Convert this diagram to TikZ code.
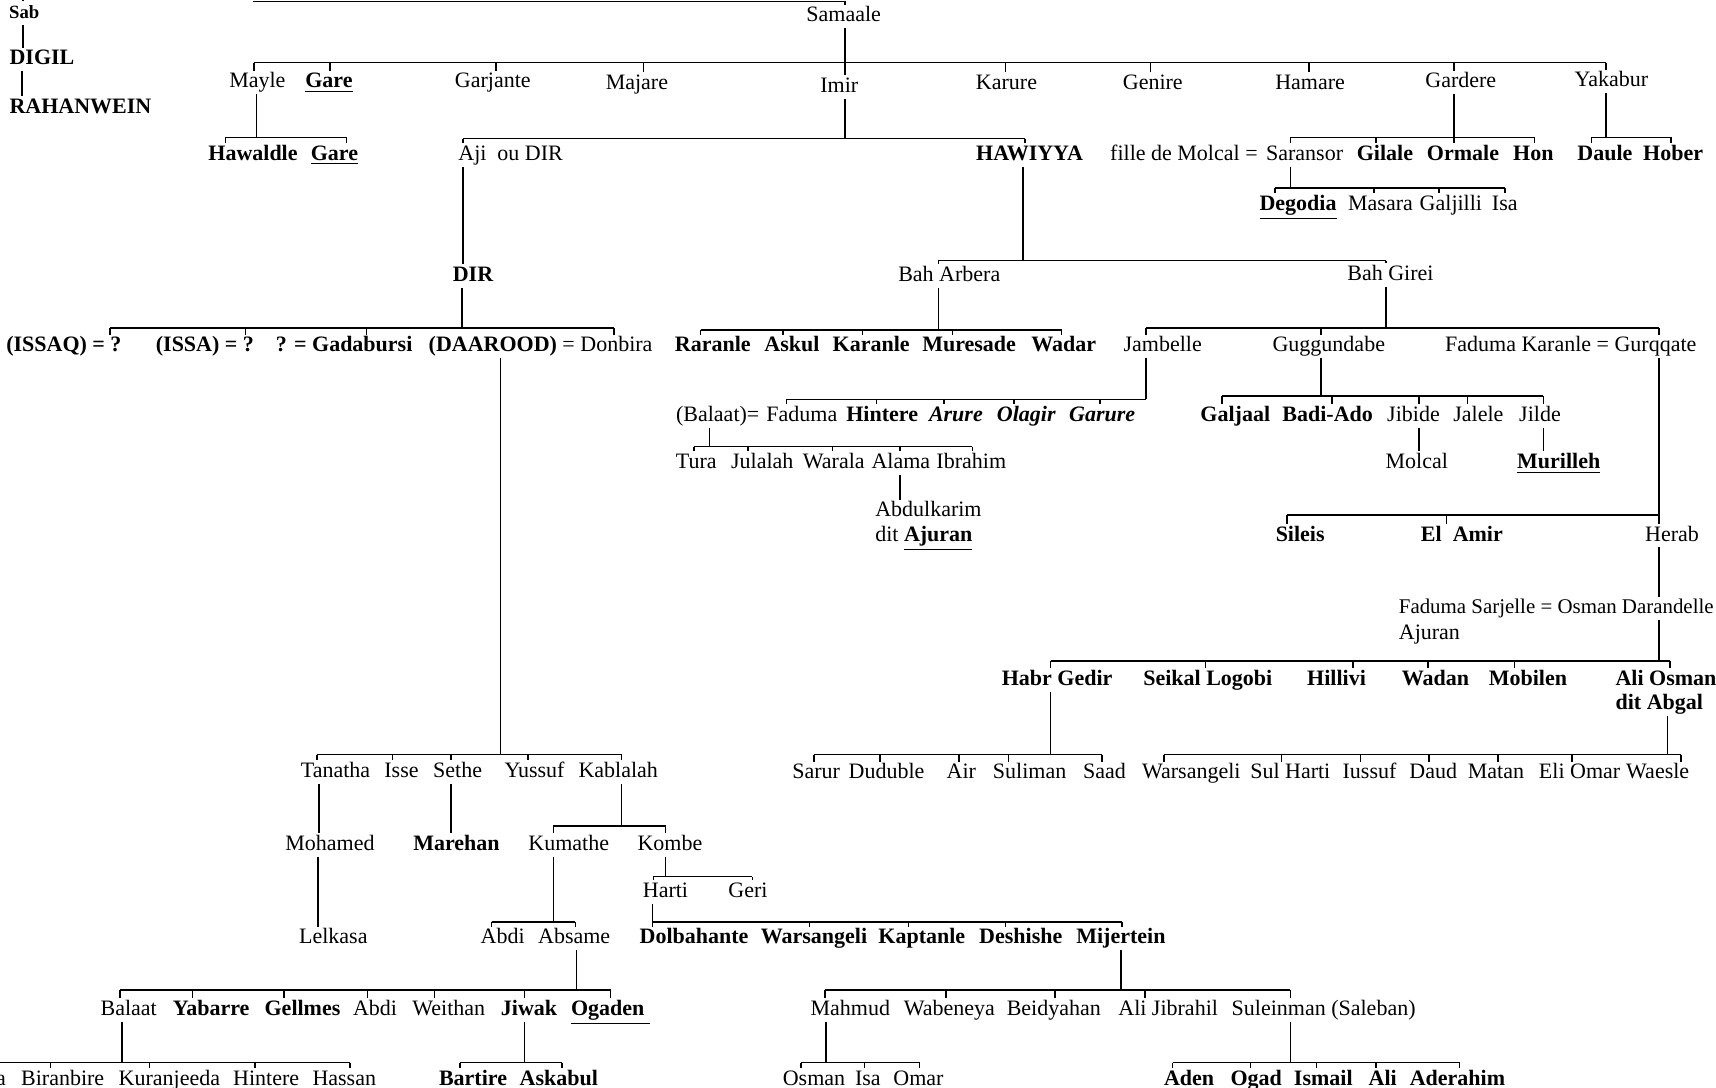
\documentclass[tikz,border=0pt]{standalone}
\usepackage{fontspec}
\setmainfont{Liberation Serif}
% parent, drop x, bar y, bar left, bar right, children list node/x
\newcommand\kinbar[6]{%
  \draw (#2,#3 |- #1.south) -- (#2,#3);
  \draw (#4,#3) -- (#5,#3);
  \foreach \cc/\xx in {#6}{\draw (\xx,#3) -- (\xx,#3 |- \cc.north);}%
}
\newcommand\kinlink[3]{\draw (#3,0 |- #1.south) -- (#3,0 |- #2.north);}
\begin{document}
\begin{tikzpicture}[x=0.5pt,y=-0.5pt,line width=0.7pt,
  every node/.style={inner sep=0.5pt,text height=7pt,text depth=2pt,font=\fontsize{10}{12}\selectfont},
  bd/.style={font=\fontsize{10}{12}\selectfont\bfseries}]
\fill[white] (0,0) rectangle (1560,989);
\useasboundingbox (0,0) rectangle (1560,989);

% ---- left column
\node[font=\fontsize{8.5}{10}\selectfont\bfseries] (sab) at (22,12) {Sab};
\node[bd,anchor=west] (digil) at (7,54) {DIGIL};
\node[bd,anchor=west] (rahan) at (7,98) {RAHANWEIN};
\coordinate (sabtop) at (21,0);
\draw (sabtop) -- (21,0 |- sab.north);
\kinlink{sab}{digil}{21}
\kinlink{digil}{rahan}{20}

% ---- Samaale
\node (samaale) at (767,15) {Samaale};
\coordinate (topl) at (230,1.5);
\draw (topl) -- (768,1.5) -- (768,1.5 |- samaale.north);

\node (mayle) at (234,75) {Mayle};
\node[bd] (gare1) at (299,75) {\underline{Gare}};
\node (garjante) at (448,75) {Garjante};
\node (majare) at (579,76) {Majare};
\node (imir) at (763,79) {Imir};
\node (karure) at (915,76) {Karure};
\node (genire) at (1048,76) {Genire};
\node (hamare) at (1191,76) {Hamare};
\node (gardere) at (1328,75) {Gardere};
\node (yakabur) at (1465,74) {Yakabur};
\kinbar{samaale}{768}{57}{231}{1460}{mayle/231,gare1/300,garjante/451,majare/585,imir/768,karure/914,genire/1046,hamare/1190,gardere/1322,yakabur/1460}

% ---- Mayle
\node[bd] (hawaldle) at (230,141) {Hawaldle};
\node[bd] (gare2) at (304,141) {\underline{Gare}};
\kinbar{mayle}{233}{125}{205}{315}{hawaldle/205,gare2/315}

% ---- Imir
\node[anchor=west] (aji) at (415,141) {Aji\ \ ou DIR};
\node[bd] (hawiyya) at (936,141) {HAWIYYA};
\kinbar{imir}{768}{126}{421}{932}{aji/421,hawiyya/932}

\node[bd] (dir) at (430,251) {DIR};
\kinlink{aji}{dir}{421}
\node[bd,anchor=west] (issaq) at (4,315) {(ISSAQ) = ?};
\node[bd,anchor=west] (issa) at (140,315) {(ISSA) = ?};
\node[bd,anchor=west] (gada) at (249,315) {? = Gadabursi};
\node[anchor=west] (daarood) at (388,315) {\textbf{(DAAROOD)} = Donbira};
\kinbar{dir}{420}{298}{100}{558}{issaq/100,issa/223,gada/333,daarood/558}

% ---- Hawiyya
\node (baharbera) at (863,251) {Bah Arbera};
\node (bahgirei) at (1264,250) {Bah Girei};
\kinbar{hawiyya}{930}{237}{853}{1260}{baharbera/853,bahgirei/1260}

\node[bd] (raranle) at (648,315) {Raranle};
\node[bd] (askul) at (720,315) {Askul};
\node[bd] (karanle) at (792,315) {Karanle};
\node[bd] (muresade) at (881,315) {Muresade};
\node[bd] (wadar) at (967,315) {Wadar};
\kinbar{baharbera}{853}{300}{637}{965}{raranle/637,askul/712,karanle/784,muresade/866,wadar/965}

\node (jambelle) at (1057,315) {Jambelle};
\node (gugg) at (1208,315) {Guggundabe};
\node (fkg) at (1428,315) {Faduma Karanle = Gurqqate};
\kinbar{bahgirei}{1260}{298}{1042}{1508}{jambelle/1042,gugg/1201,fkg/1508}

% ---- Jambelle
\node[anchor=east] (balaat1) at (692,378) {(Balaat)=};
\node (faduma1) at (729,378) {Faduma};
\node[bd] (hintere1) at (802,378) {Hintere};
\node[bd] (arure) at (869,378) {\textit{Arure}};
\node[bd] (olagir) at (933,378) {\textit{Olagir}};
\node[bd] (garure) at (1002,378) {\textit{Garure}};
\kinbar{jambelle}{1042}{363}{715}{1042}{faduma1/715,hintere1/797,arure/858,olagir/922,garure/1000}

\node (tura) at (633,421) {Tura};
\node (julalah) at (693,421) {Julalah};
\node (warala) at (758,421) {Warala};
\node (alama) at (819,421) {Alama};
\node (ibrahim) at (883,421) {Ibrahim};
\kinbar{balaat1}{645}{406}{631}{884}{tura/631,julalah/680,warala/757,alama/818,ibrahim/884}

\node[anchor=west] (abdul) at (794,465) {Abdulkarim};
\node[anchor=west] (ditaj) at (794,487) {dit \textbf{\underline{Ajuran}}};
\kinlink{alama}{abdul}{818}

% ---- Guggundabe
\node[bd] (galjaal) at (1123,378) {Galjaal};
\node[bd] (badi) at (1207,378) {Badi-Ado};
\node (jibide) at (1285,378) {Jibide};
\node (jalele) at (1344,378) {Jalele};
\node (jilde) at (1400,378) {Jilde};
\kinbar{gugg}{1201}{360}{1111}{1403}{galjaal/1111,badi/1211,jibide/1290,jalele/1334,jilde/1403}
\node (molcal) at (1288,421) {Molcal};
\kinlink{jibide}{molcal}{1290}
\node[bd] (murilleh) at (1417,421) {\underline{Murilleh}};
\kinlink{jilde}{murilleh}{1403}

% ---- Gurqqate
\node[bd] (sileis) at (1182,487) {Sileis};
\node[bd] (elamir) at (1329,487) {El\ \ Amir};
\node (herab) at (1520,487) {Herab};
\kinbar{fkg}{1508}{468}{1170}{1508}{sileis/1170,elamir/1315,herab/1508}

\node[anchor=west,font=\fontsize{9.5}{11}\selectfont] (fso) at (1270,553) {Faduma Sarjelle = Osman Darandelle};
\node[anchor=west] (ajuran2) at (1270,576) {Ajuran};
\kinlink{herab}{fso}{1508}

\node[bd] (habr) at (961,618) {Habr Gedir};
\node[bd] (seikal) at (1098,618) {Seikal Logobi};
\node[bd] (hillivi) at (1215,618) {Hillivi};
\node[bd] (wadan) at (1305,618) {Wadan};
\node[bd] (mobilen) at (1389,618) {Mobilen};
\node[bd,anchor=west] (aliosman) at (1467,618) {Ali Osman};
\node[bd,anchor=west] (ditabgal) at (1467,640) {dit Abgal};
\kinbar{fso}{1508}{601}{955}{1518}{habr/955,seikal/1096,hillivi/1230,wadan/1298,mobilen/1377,aliosman/1518}

\node (sarur) at (742,703) {Sarur};
\node (duduble) at (806,703) {Duduble};
\node (air) at (874,703) {Air};
\node (suliman) at (936,703) {Suliman};
\node (saad) at (1004,703) {Saad};
\kinbar{habr}{955}{686}{740}{1002}{sarur/740,duduble/800,air/872,suliman/917,saad/1002}

\node (warsa2) at (1083,703) {Warsangeli};
\node (sulharti) at (1173,703) {Sul Harti};
\node (iussuf) at (1245,703) {Iussuf};
\node (daud) at (1303,703) {Daud};
\node (matan) at (1360,703) {Matan};
\node (eliomar) at (1436,703) {Eli Omar};
\node (wacsle) at (1507,703) {Waesle};
\kinbar{ditabgal}{1516}{686}{1058}{1528}{warsa2/1058,sulharti/1165,iussuf/1237,daud/1299,matan/1362,eliomar/1429,wacsle/1528}

% ---- Gardere
\node (saransor) at (1186,141) {Saransor};
\node[anchor=east] (fdm) at (1145,141) {fille de Molcal =};
\node[bd] (gilale) at (1259,141) {Gilale};
\node[bd] (ormale) at (1330,141) {Ormale};
\node[bd] (hon) at (1394,141) {Hon};
\kinbar{gardere}{1322}{125}{1173}{1395}{saransor/1173,gilale/1251,ormale/1322,hon/1395}

\node[bd] (degodia) at (1180,186) {\underline{Degodia}};
\node (masara) at (1255,186) {Masara};
\node (galjilli) at (1319,186) {Galjilli};
\node (isa1) at (1368,186) {Isa};
\kinbar{saransor}{1173}{171}{1159}{1368}{degodia/1159,masara/1249,galjilli/1308,isa1/1368}

% ---- Yakabur
\node[bd] (daule) at (1459,141) {Daule};
\node[bd] (hober) at (1521,141) {Hober};
\kinbar{yakabur}{1460}{125}{1447}{1519}{daule/1447,hober/1519}

% ---- Daarood
\node (tanatha) at (305,702) {Tanatha};
\node (isse) at (365,702) {Isse};
\node (sethe) at (416,702) {Sethe};
\node (yussuf) at (486,702) {Yussuf};
\node (kablalah) at (562,702) {Kablalah};
\kinbar{daarood}{455}{686}{288}{565}{tanatha/288,isse/357,sethe/410,yussuf/480,kablalah/565}

\node (mohamed) at (300,768) {Mohamed};
\kinlink{tanatha}{mohamed}{290}
\node (lelkasa) at (303,853) {Lelkasa};
\kinlink{mohamed}{lelkasa}{289}
\node[bd] (marehan) at (415,768) {Marehan};
\kinlink{sethe}{marehan}{410}
\node (kumathe) at (517,768) {Kumathe};
\node (kombe) at (609,768) {Kombe};
\kinbar{kablalah}{565}{751}{503}{605}{kumathe/503,kombe/605}

\node (abdi1) at (457,853) {Abdi};
\node (absame) at (522,853) {Absame};
\kinbar{kumathe}{503}{838}{447}{523}{abdi1/447,absame/523}

\node (balaat) at (117,918) {Balaat};
\node[bd] (yabarre) at (192,918) {Yabarre};
\node[bd] (gellmes) at (275,918) {Gellmes};
\node (abdi2) at (341,918) {Abdi};
\node (weithan) at (408,918) {Weithan};
\node[bd] (jiwak) at (481,918) {Jiwak};
\node[bd] (ogaden) at (555,918) {\underline{Ogaden\ }};
\kinbar{absame}{524}{900}{109}{555}{balaat/109,yabarre/175,gellmes/258,abdi2/334,weithan/395,jiwak/477,ogaden/555}

\node[anchor=east] (acut) at (7,982) {a};
\node (biran) at (57,982) {Biranbire};
\node (kuran) at (154,982) {Kuranjeeda};
\node (hintere2) at (242,982) {Hintere};
\node (hassan) at (313,982) {Hassan};
\kinbar{balaat}{111}{966}{0}{318}{biran/46,kuran/136,hintere2/232,hassan/318}

\node[bd] (bartire) at (430,982) {Bartire};
\node[bd] (askabul) at (508,982) {Askabul};
\kinbar{jiwak}{477}{966}{418}{511}{bartire/418,askabul/511}

% ---- Kombe
\node (harti) at (605,811) {Harti};
\node (geri) at (680,811) {Geri};
\kinbar{kombe}{605}{797}{594}{684}{harti/594,geri/684}

\node[bd] (dolba) at (631,853) {Dolbahante};
\node[bd] (warsa1) at (740,853) {Warsangeli};
\node[bd] (kaptanle) at (838,853) {Kaptanle};
\node[bd] (deshishe) at (928,853) {Deshishe};
\node[bd] (mijertein) at (1019,853) {Mijertein};
\kinbar{harti}{593}{838}{593}{1020}{dolba/593,warsa1/736,kaptanle/826,deshishe/914,mijertein/1020}

\node (mahmud) at (773,918) {Mahmud};
\node (wabeneya) at (863,918) {Wabeneya};
\node (beid) at (958,918) {Beidyahan};
\node[anchor=west] (alij) at (1015,918) {Ali Jibrahil};
\node[anchor=west] (sulein) at (1118,918) {Suleinman (Saleban)};
\kinbar{mijertein}{1019}{900}{750}{1173}{mahmud/750,wabeneya/860,beid/959,alij/1041,sulein/1173}

\node (osman) at (740,982) {Osman};
\node (isa2) at (789,982) {Isa};
\node (omar) at (835,982) {Omar};
\kinbar{mahmud}{751}{966}{728}{836}{osman/728,isa2/786,omar/836}

\node[bd] (aden) at (1081,982) {Aden};
\node[bd] (ogad) at (1142,982) {Ogad};
\node[bd] (ismail) at (1203,982) {Ismail};
\node[bd] (ali2) at (1257,982) {Ali};
\node[bd] (aderahim) at (1325,982) {Aderahim};
\kinbar{sulein}{1173}{966}{1066}{1327}{aden/1066,ogad/1137,ismail/1197,ali2/1251,aderahim/1327}
\end{tikzpicture}
\end{document}
